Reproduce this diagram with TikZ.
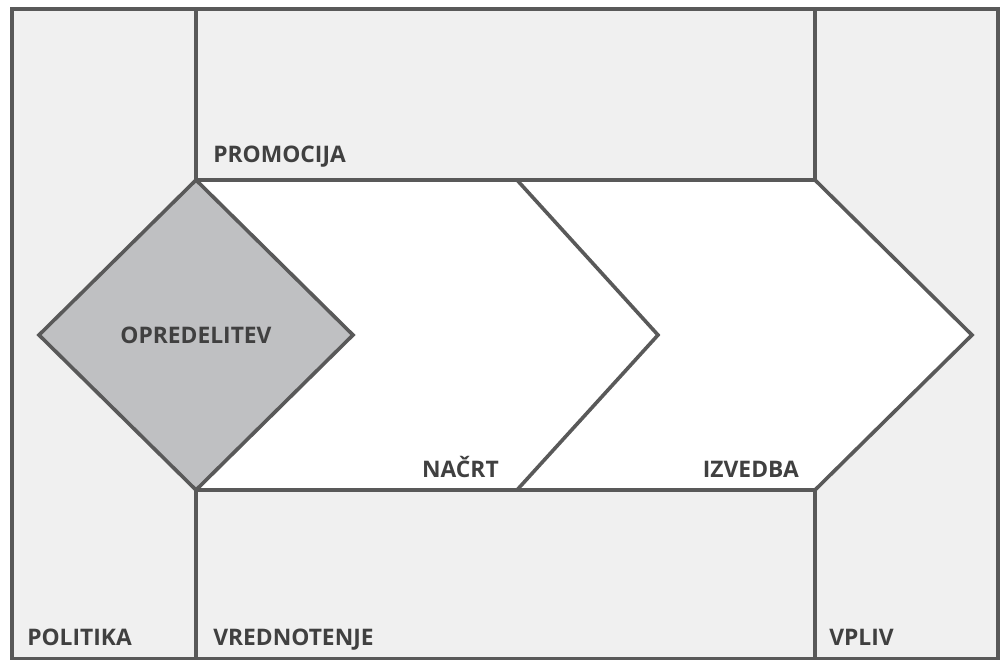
\documentclass[tikz,border=0pt]{standalone}
\usepackage{fontspec}
\setmainfont{Open Sans}
\definecolor{bgray}{HTML}{F0F0F0}
\definecolor{lgray}{HTML}{595959}
\definecolor{dgray}{HTML}{BFC0C2}
\definecolor{tgray}{HTML}{404040}
\tikzset{
  lbl/.style={inner sep=0pt, text=tgray, font=\fontsize{17.1pt}{19pt}\selectfont\bfseries},
  edge/.style={draw=lgray, line width=2.7pt, line join=miter},
}
\begin{document}
\begin{tikzpicture}[x=0.75pt,y=-0.75pt]
\useasboundingbox (0,0) rectangle (1001,660);
% background panels
\fill[bgray] (12,9) rectangle (998,659);
\fill[white] (196,180) -- (815,180) -- (972,335) -- (815,490) -- (196,490) -- cycle;
% structure lines
\draw[edge] (12,9) rectangle (998,659);
\draw[edge] (196,9) -- (196,180) -- (815,180) -- (815,9);
\draw[edge] (196,659) -- (196,490) -- (815,490) -- (815,659);
\draw[edge] (517,180) -- (658,335) -- (517,490);
\draw[edge] (815,180) -- (972,335) -- (815,490);
% diamond
\draw[edge, fill=dgray] (196,180) -- (353,335) -- (196,490) -- (39,335) -- cycle;
% labels
\node[lbl, anchor=base west] (promocija) at (213,163) {PROMOCIJA};
\node[lbl, anchor=base] (opredelitev) at (196,343) {OPREDELITEV};
\node[lbl, anchor=base east] (nacrt) at (499,477) {NAČRT};
\node[lbl, anchor=base east] (izvedba) at (799,477) {IZVEDBA};
\node[lbl, anchor=base west] (politika) at (27,645) {POLITIKA};
\node[lbl, anchor=base west] (vrednotenje) at (213,645) {VREDNOTENJE};
\node[lbl, anchor=base west] (vpliv) at (829,645) {VPLIV};
\end{tikzpicture}
\end{document}
